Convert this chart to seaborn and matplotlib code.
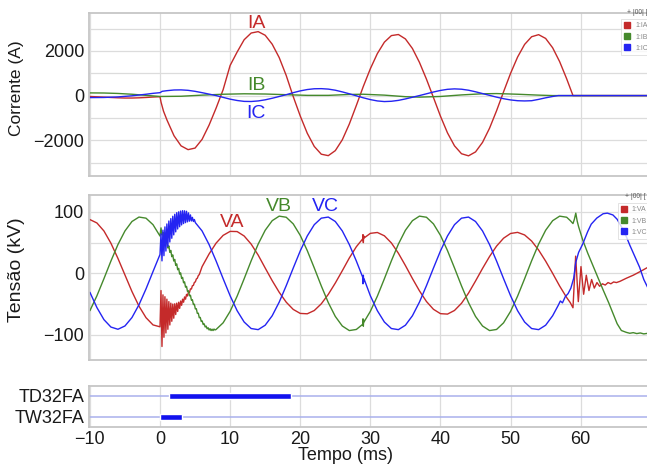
import numpy as np
import pandas as pd
import matplotlib
matplotlib.use("Agg")
import matplotlib.pyplot as plt
from matplotlib.ticker import MultipleLocator
from matplotlib.lines import Line2D
import seaborn as sns

# ---------------- currents (A) ----------------
ia_t = (list(range(-10, 1)) + [0.15, 0.5] + list(range(1, 59)) + [58.9, 60, 65, 69.6])
ia_v = ([-40, -55, -70, -85, -100, -110, -110, -100, -85, -65, -50]
        + [-300, -700]
        + [-1100, -1800, -2250, -2420, -2350, -1960, -1320, -560]
        + [263, 1350, 1950, 2500, 2800, 2863, 2700, 2300, 1700, 900]
        + [-45, -913, -1685, -2277, -2624, -2689, -2465, -1979, -1274, -443]
        + [413, 1202, 1881, 2391, 2685, 2734, 2536, 2108, 1488, 736]
        + [-86, -923, -1669, -2249, -2603, -2697, -2522, -2095, -1461, -680]
        + [169, 996, 1725, 2290, 2634, 2727, 2558, 2140, 1518, 751]
        + [0, 0, 0, 0])

ib_t = [-10, -8, -6, -4, -2, 0, 3, 6, 9, 12, 15, 18, 21, 24, 27, 29, 32, 35, 37,
        40, 43, 46, 48, 51, 54, 56, 60, 65, 69.6]
ib_v = [120, 115, 95, 60, 10, -40, -30, 20, 60, 80, 70, 40, 10, 10, 50, 60, 20, -50, -70,
        -40, 30, 80, 90, 60, 20, 0, 0, 0, 0]

ic_t = [-10, -8, -6, -4, -2, -1, 0, 0.3] + list(range(1, 57)) + [56.8, 60, 65, 69.6]
ic_v = ([-90, -85, -60, -10, 60, 100, 130, 190]
        + [220, 250, 255, 235, 190, 130, 65, 0, -80, -160, -220, -260, -265, -240,
           -190, -120, -40, 40, 130, 210, 270, 305, 310, 290, 240, 165, 80, -10,
           -100, -180, -240, -268, -255, -215, -150, -75, 0, 80, 160, 230, 280, 300,
           285, 240, 170, 90, 10, -70, -140, -195, -230, -240, -230, -170, -100, -40]
        + [0, 0, 0, 0])

# ---------------- voltages (kV) ----------------
va_t = (list(range(-10, 1)) + list(np.round(np.arange(1, 41) * 0.14, 2))
        + list(range(6, 29)) + [28.9, 28.95, 29.0, 29.05, 29.1] + list(range(30, 59))
        + [58.5, 58.9, 59.28, 59.66, 60.04, 60.42, 60.8, 61.18, 61.56, 61.94, 62.32,
           62.7, 63.1, 63.5, 63.9, 64.3, 64.7, 65.1, 65.6, 66.5, 67.5, 68.5, 69.6])
va_v = ([87.5, 82, 69, 49, 24.3, -2.7, -29.6, -53.4, -72.1, -83.9, -87]
        + [-28, -119, -35, -104, -38, -97, -42, -91, -46, -84, -48.5, -78, -50, -73,
           -49.5, -67, -48.5, -62, -47, -57, -45, -52, -42, -47, -38.4, -42, -34.3,
           -36.8, -29.8, -31.3, -25.2, -25.5, -20, -19.7, -14.7, -13.9, -9.2, -8,
           -3.7, -2]
        + [10.9, 31.6, 49.2, 61.8, 68.3, 68.0, 60.8, 47.6, 29.7, 8.7, -11.9, -30.8,
           -46.9, -58.7, -65.2, -65.8, -60.5, -49.6, -34.2, -15.8, 4.3, 25, 43.3]
        + [56, 63, 50, 61, 57.5]
        + [65.1, 66.5, 61.1, 49.5, 32.7, 12.7, -8.4, -28.4, -45.8, -58.5, -65.6, -66.3,
           -60.4, -48.7, -32.2, -12.5, 8.0, 27.4, 44.3, 57.2, 64.9, 66.7, 62.5, 52.6,
           37.9, 19.9, 0, -20.7, -39.4]
        + [-47.4, -56, 28, -46, 11, -34, -3, -28, -10, -24, -15, -21, -17, -19, -15,
           -17, -14, -15, -13, -8, -3, 3, 10])

vb_t = (list(range(-10, 1)) + list(np.round(np.arange(1, 57) * 0.14, 2))
        + list(range(8, 29)) + [28.9, 28.95, 29.0, 29.05, 29.1] + list(range(30, 59))
        + [58.5, 58.9, 59.1, 59.3, 59.5, 59.7, 60.3, 61.0, 61.8, 62.5, 63.2, 64.0,
           64.6, 65.2, 65.8, 66.5, 67.0, 67.5, 68.0, 68.5, 69.0, 69.6])
vb_v = ([-60.8, -36.5, -8.7, 20.1, 46.9, 69, 84.4, 91.6, 89.8, 79.2, 60.7]
        + [74, 62.4, 66.8, 55.4, 59.4, 48.3, 52, 41.3, 44.7, 34.2, 37.3, 27.1, 30,
           20.1, 22.7, 13, 15.4, 5.9, 8.1, -1.2, 0.8, -8.3, -6.5, -15.4, -13.8, -22.5,
           -21.1, -29.5, -28.3, -36.6, -35.6, -43.7, -42.9, -50.8, -50.2, -57.9,
           -57.5, -65.1, -64.8, -72.2, -71.7, -78.3, -77.5, -83.3, -82.2, -87.3,
           -85.8, -90.2, -88.5, -92.2, -90.1, -93.1, -90.8, -93.1, -90.6, -92.1]
        + [-91.3, -80.5, -61.8, -37.1, -8.8, 20.4, 47.6, 70.1, 85.7, 93.1, 91.3, 80.5,
           61.8, 37.1, 8.8, -20.4, -47.6, -70.1, -85.7, -93.1, -91.3]
        + [-83, -74, -86, -76, -79]
        + [-61.8, -37.1, -8.8, 20.4, 47.6, 70.1, 85.7, 93.1, 91.3, 80.5, 61.8, 37.1,
           8.8, -20.4, -47.6, -70.1, -85.7, -93.1, -91.3, -80.5, -61.8, -37.1, -8.8,
           20.4, 47.6, 70.1, 85.7, 93.1, 91.3]
        + [86, 81, 88, 98, 85, 76, 54, 33, 11, -8, -27, -48, -65, -82, -93, -96,
           -97.5, -96.5, -98, -97, -98.5, -97.5])

vc_t = (list(range(-10, 1)) + list(np.round(np.arange(1, 37) * 0.14, 2))
        + list(range(6, 29)) + [28.9, 28.95, 29.0, 29.05, 29.1] + list(range(30, 57))
        + [56.8, 57.1, 57.4, 57.8, 58.2, 58.6, 59.0, 59.3, 59.7, 60.3, 61.0, 61.5,
           62.3, 63.2, 63.8, 64.6, 65.2, 65.8, 66.5, 67.0, 67.7, 68.4, 69.0, 69.6])
vc_v = ([-30.8, -55.7, -75.3, -87.4, -91, -85.6, -71.9, -51.1, -25.4, 2.9, 30.8]
        + [64.2, 20.3, 70.3, 28.8, 75.6, 36.3, 80.4, 43.9, 85.2, 51, 89.1, 57.1, 92.9,
           62.6, 96.1, 67.5, 98.7, 72.2, 100.1, 75.8, 101.4, 78.8, 102, 81, 101.8,
           82.5, 101, 83.8, 98.4, 84.9, 95.1, 85.3, 91.1, 84.4, 87.6, 82.5]
        + [69, 46.8, 20.1, -8.6, -36.5, -60.8, -79.2, -89.8, -91.6, -84.4, -69, -46.8,
           -20.1, 8.6, 36.5, 60.8, 79.2, 89.8, 91.6, 84.4, 69, 46.8, 20.1]
        + [-6, -17, -3, -14, -9]
        + [-36.5, -60.8, -79.2, -89.8, -91.6, -84.4, -69, -46.8, -20.1, 8.6, 36.5,
           60.8, 79.2, 89.8, 91.6, 84.4, 69, 46.8, 20.1, -8.6, -36.5, -60.8, -79.2,
           -89.8, -91.6, -84.4, -69]
        + [-52, -45, -48, -38, -33, -24, -8, 18, 34, 48, 68, 80, 90, 97, 98, 95, 88,
           76, 60, 46, 28, 10, -10, -24])

# ---------------- digital elements ----------------
dig_names = ["TW32FA", "TD32FA"]
dig_start = [0.03, 1.26]
dig_end = [3.17, 18.7]

current_names = ["IA", "IB", "IC"]
voltage_names = ["VA", "VB", "VC"]

RED, GREEN, BLUE = "#c42a2a", "#45892c", "#2424f2"
colors = [RED, GREEN, BLUE]

sns.set_theme(style="whitegrid")
plt.rcParams["font.family"] = ["Liberation Sans", "DejaVu Sans"]
plt.rcParams["axes.unicode_minus"] = True

W, H = 647, 468
fig = plt.figure(figsize=(W / 100, H / 100), dpi=100)
fig.patch.set_facecolor("white")

left_px, right_px = 88.5, 648.0


def axes_px(top, bottom):
    return [left_px / W, 1 - bottom / H, (right_px - left_px) / W, (bottom - top) / H]


ax1 = fig.add_axes(axes_px(12.7, 176.0))
ax2 = fig.add_axes(axes_px(195.0, 360.0), sharex=ax1)
ax3 = fig.add_axes(axes_px(386.0, 426.7), sharex=ax1)


def long_frame(names, ts, vs):
    parts = [pd.DataFrame({"t": t, "v": v, "fase": n}) for n, t, v in zip(names, ts, vs)]
    return pd.concat(parts, ignore_index=True)


df_i = long_frame(current_names, [ia_t, ib_t, ic_t], [ia_v, ib_v, ic_v])
df_v = long_frame(voltage_names, [va_t, vb_t, vc_t], [va_v, vb_v, vc_v])

for ax, df, names in [(ax1, df_i, current_names), (ax2, df_v, voltage_names)]:
    sns.lineplot(data=df, x="t", y="v", hue="fase", hue_order=names,
                 palette=dict(zip(names, colors)), estimator=None, sort=False,
                 linewidth=1.0, legend=False, ax=ax)

# timing bars
ax3.barh([0, 1], np.array(dig_end) - np.array(dig_start), left=dig_start,
         height=0.29, color="#1212ee", zorder=3)
for yy in [0, 1]:
    ax3.axhline(yy, color="#a9b0ec", lw=1.1, zorder=2)
ax3.set_yticks([0, 1])
ax3.set_yticklabels(dig_names)
ax3.set_ylim(-0.48, 1.46)

ax1.set_xlim(-10.2, 69.6)
ax1.xaxis.set_major_locator(MultipleLocator(10))

ax1.set_ylim(-3600, 3710)
ax1.yaxis.set_major_locator(MultipleLocator(2000))
ax1.yaxis.set_minor_locator(MultipleLocator(1000))
ax2.set_ylim(-141, 127.5)
ax2.yaxis.set_major_locator(MultipleLocator(100))
ax2.yaxis.set_minor_locator(MultipleLocator(50))

for ax in (ax1, ax2, ax3):
    ax.set_facecolor("white")
    ax.set_xlabel("")
    ax.set_ylabel("")
    ax.grid(True, which="major", color="#dcdcdc", lw=0.9)
    ax.tick_params(axis="both", which="both", length=0, pad=3,
                   labelsize=13, labelcolor="#1a1a1a")
    for side, sp in ax.spines.items():
        sp.set_color("#c6c6c6")
        sp.set_linewidth(1.3)
ax3.yaxis.grid(False)
for ax in (ax1, ax2):
    ax.grid(True, which="minor", axis="y", color="#dcdcdc", lw=0.9)
    ax.tick_params(labelbottom=False)

# phase names drawn beside the curves
ax1.text(13.7, 3208, "IA", color=RED, fontsize=14, ha="center", va="center")
ax1.text(13.7, 434, "IB", color=GREEN, fontsize=14, ha="center", va="center")
ax1.text(13.7, -788, "IC", color=BLUE, fontsize=14, ha="center", va="center")
ax2.text(10.3, 82.4, "VA", color=RED, fontsize=14, ha="center", va="center")
ax2.text(16.95, 109.6, "VB", color=GREEN, fontsize=14, ha="center", va="center")
ax2.text(23.6, 109.6, "VC", color=BLUE, fontsize=14, ha="center", va="center")

# small channel legends in the corners
for ax, names, anchor in [(ax1, current_names, (0.952, 0.962)),
                          (ax2, voltage_names, (0.946, 0.952))]:
    handles = [Line2D([], [], marker="s", linestyle="none", markersize=4.2, color=c)
               for c in colors]
    leg = ax.legend(handles, ["1:" + n for n in names], loc="upper left",
                    bbox_to_anchor=anchor, fontsize=5, frameon=True, fancybox=False,
                    handlelength=0.8, handletextpad=0.7, borderpad=0.5,
                    labelspacing=0.6, borderaxespad=0)
    leg.get_frame().set_edgecolor("#d6d6d6")
    leg.get_frame().set_linewidth(0.6)
    for txt in leg.get_texts():
        txt.set_color("#888888")

fig.text(627 / W, 1 - 13 / H, "+ |00| [", fontsize=4.8, color="#555555", va="center")
fig.text(625 / W, 1 - 196 / H, "+ |00| [", fontsize=4.8, color="#555555", va="center")

fig.text(16.7 / W, 1 - 88 / H, "Corrente (A)", rotation=90, fontsize=12.5,
         ha="center", va="center", color="#1a1a1a")
fig.text(16.7 / W, 1 - 270 / H, "Tensão (kV)", rotation=90, fontsize=14,
         ha="center", va="center", color="#1a1a1a")
fig.text(345.7 / W, 1 - 456 / H, "Tempo (ms)", fontsize=13,
         ha="center", va="center", color="#1a1a1a")

fig.savefig("out.png", dpi=100, facecolor="white")
